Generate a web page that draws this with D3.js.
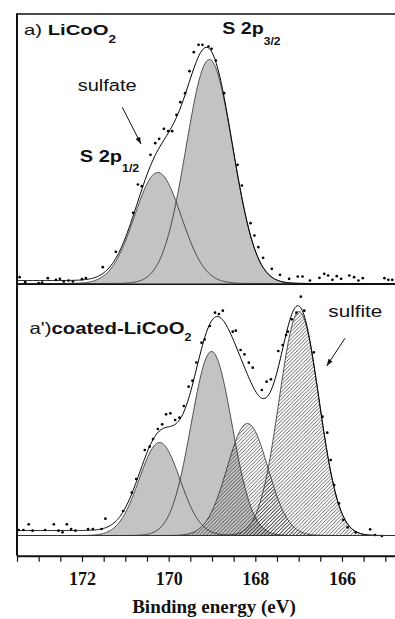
<!DOCTYPE html>
<html>
<head>
<meta charset="utf-8">
<script src="https://cdn.jsdelivr.net/npm/d3@7"></script>
<style>
  html, body { margin: 0; padding: 0; background: #fff; }
  svg { display: block; }
  .tick text { font-family: 'Liberation Serif', 'Times New Roman', serif; font-weight: bold; font-size: 18px; }
</style>
</head>
<body>
<svg id="chart" width="395" height="619"></svg>
<script>
// ---------------- DATA ----------------
const majorTicks = [172, 170, 168, 166];
const xTitle = "Binding energy (eV)";

// panel a) LiCoO2 : measured points (binding energy, intensity a.u.)
const topPointsE = [173.44,173.31,173.0,172.92,172.79,172.60,172.51,172.42,172.31,172.21,172.0,171.91,171.52,171.22,170.82,170.71,170.62,170.42,170.31,170.22,170.11,170.01,169.92,169.82,169.73,169.62,169.52,169.42,169.31,169.22,169.08,169.01,168.91,168.72,168.41,168.31,168.11,168.02,167.93,167.82,167.62,167.43,167.22,167.02,166.91,166.74,166.52,166.41,166.32,166.22,166.12,166.02,165.83,165.72,165.62,165.52,165.02,164.93,164.84];
const topPointsI = [6.3,1.3,0.3,1,5.3,3.7,4.7,2,3,2,4.3,5.3,16.3,31.7,70.7,99,97.3,128.7,140.3,144.7,154.7,152.3,152.3,168.7,181.3,190.3,212.3,231.3,238.7,238.7,237,234.7,223,190.3,118.7,98,60.3,48,36.3,25.7,14.7,8.7,4.7,7,7,3,5.7,9.7,8,3.7,7.3,4.7,8,6.3,3,5.3,5.3,3.7,3.7];
// fitted components (S 2p1/2, S 2p3/2 of sulfate)
const topSpecies = ["sulfate", "sulfate"];
const topCenters = [170.25, 169.06];
const topHeights = [111, 224];
const topSigmas  = [0.54, 0.54];
const topBackgroundStep = 3;

// panel a') coated-LiCoO2
const botPointsE = [173.46,173.35,173.23,173.14,172.85,172.65,172.54,172.45,172.35,172.25,172.15,171.86,171.75,171.55,171.46,171.05,170.85,170.75,170.55,170.44,170.36,170.25,170.15,170.06,169.96,169.85,169.75,169.65,169.54,169.45,169.36,169.24,169.17,169.05,168.93,168.84,168.75,168.52,168.45,168.34,168.25,168.15,168.06,167.85,167.74,167.64,167.47,167.37,167.29,167.25,167.16,167.05,166.95,166.87,166.65,166.45,166.34,166.26,166.18,166.07,165.97,165.87,165.68,165.35,165.24,165.08];
const botPointsI = [5.5,5.5,11.2,4.8,5.5,11.2,4.8,3.2,11.2,6.5,4.8,6.5,6.5,6.5,16.8,24.5,42.8,56.5,85.5,88.8,96.5,106.5,111.2,121.2,122.2,115.5,117.8,129.5,148.8,154.8,173,192.8,196,209.5,222.8,221.5,224.8,203.8,204.8,185.5,181.2,172.8,167.8,145.5,153.8,156.2,184.5,190.5,200.5,203.8,216.2,222.8,238.8,224.8,183.2,118.8,102.8,75.5,50.5,32.2,15.5,8.2,3.2,6.2,0.5,-0.5];
const botSpecies = ["sulfate", "sulfate", "sulfite", "sulfite"];
const botCenters = [170.21, 169.01, 168.18, 166.99];
const botHeights = [93, 184, 112, 224];
const botSigmas  = [0.47, 0.47, 0.47, 0.46];
const botBackgroundStep = 5;

// ---------------- DRAW ----------------
const svg = d3.select("#chart");
const W = 395;
const left = 17, axisY = 555.7;
const pxPerEV = 43.33;

const x = d3.scaleLinear().domain([173.5, 164.5]).range([left, left + 9 * pxPerEV]);
const yTop = d3.scaleLinear().domain([0, 250]).range([283.5, 33.5]);
const yBot = d3.scaleLinear().domain([0, 250]).range([535.5, 285.5]);

const defs = svg.append("defs");
defs.append("clipPath").attr("id", "clip")
  .append("rect").attr("x", left).attr("y", 14).attr("width", W - left).attr("height", axisY - 14);

const pat = defs.append("pattern").attr("id", "hatch")
  .attr("patternUnits", "userSpaceOnUse").attr("width", 3.6).attr("height", 3.6);
pat.append("path").attr("d", "M-0.9,0.9 L0.9,-0.9 M0,3.6 L3.6,0 M2.7,4.5 L4.5,2.7")
  .attr("stroke", "#222").attr("stroke-width", 0.7);

defs.append("marker").attr("id", "arrow")
  .attr("viewBox", "0 0 10 10").attr("refX", 10).attr("refY", 5)
  .attr("markerWidth", 7).attr("markerHeight", 7).attr("orient", "auto")
  .attr("markerUnits", "userSpaceOnUse")
  .append("path").attr("d", "M0,1.5 L10,5 L0,8.5 Z").attr("fill", "#111");

function erf(z) {
  const s = z < 0 ? -1 : 1; z = Math.abs(z);
  const t = 1 / (1 + 0.3275911 * z);
  const y = 1 - (((((1.061405429 * t - 1.453152027) * t) + 1.421413741) * t - 0.284496736) * t + 0.254829592) * t * Math.exp(-z * z);
  return s * y;
}
const gauss = (E, c, h, s) => h * Math.exp(-((E - c) ** 2) / (2 * s * s));

const grid = d3.range(173.6, 164.4, -0.02);

function drawPanel(yS, species, centers, heights, sigmas, bgStep, pe, pi) {
  const g = svg.append("g").attr("clip-path", "url(#clip)");
  const comps = centers.map((c, i) => ({ c, h: heights[i], s: sigmas[i], sp: species[i] }));
  const area = d3.area().x(d => x(d[0])).y0(yS(0)).y1(d => yS(d[1])).curve(d3.curveLinear);
  const line = d3.line().x(d => x(d[0])).y(d => yS(d[1]));
  const ordered = comps.filter(d => d.sp === "sulfate").concat(comps.filter(d => d.sp === "sulfite"));
  ordered.forEach(d => {
    const pts = grid.map(E => [E, gauss(E, d.c, d.h, d.s)]);
    g.append("path").attr("d", area(pts))
      .attr("fill", d.sp === "sulfate" ? "#c3c3c3" : "url(#hatch)")
      .attr("stroke", "none");
  });
  ordered.forEach(d => {
    const pts = grid.map(E => [E, gauss(E, d.c, d.h, d.s)]);
    g.append("path").attr("d", line(pts))
      .attr("fill", "none").attr("stroke", "#2b2b2b").attr("stroke-width", 0.8);
  });
  const totalA = d3.sum(comps, d => d.h * d.s);
  const env = grid.map(E => {
    const bg = bgStep * d3.sum(comps, d => d.h * d.s * 0.5 * (1 + erf((E - d.c) / (d.s * Math.SQRT2)))) / totalA;
    return [E, bg + d3.sum(comps, d => gauss(E, d.c, d.h, d.s))];
  });
  g.append("path").attr("d", line(env))
    .attr("fill", "none").attr("stroke", "#000").attr("stroke-width", 1);
  g.selectAll(null).data(pe.map((E, i) => [E, pi[i]])).enter().append("circle")
    .attr("cx", d => x(d[0])).attr("cy", d => yS(d[1])).attr("r", 1.35).attr("fill", "#000");
}

drawPanel(yTop, topSpecies, topCenters, topHeights, topSigmas, topBackgroundStep, topPointsE, topPointsI);
drawPanel(yBot, botSpecies, botCenters, botHeights, botSigmas, botBackgroundStep, botPointsE, botPointsI);

// frame lines
svg.append("line").attr("x1", left).attr("x2", W).attr("y1", 14).attr("y2", 14)
  .attr("stroke", "#111").attr("stroke-width", 1.5);
svg.append("line").attr("x1", left).attr("x2", W).attr("y1", 284.3).attr("y2", 284.3)
  .attr("stroke", "#111").attr("stroke-width", 1.5);
svg.append("line").attr("x1", left).attr("x2", W).attr("y1", yBot(0)).attr("y2", yBot(0))
  .attr("stroke", "#333").attr("stroke-width", 1);
svg.append("line").attr("x1", left).attr("x2", left).attr("y1", 13.3).attr("y2", axisY)
  .attr("stroke", "#111").attr("stroke-width", 2);

// x axis
const allTicks = d3.range(173.5, 164.9, -0.5);
const axis = d3.axisBottom(x).tickValues(allTicks)
  .tickFormat(d => majorTicks.includes(d) ? String(d) : "")
  .tickSize(6).tickSizeOuter(0);
const ax = svg.append("g").attr("transform", `translate(0,${axisY})`).call(axis)
  .attr("font-family", null).attr("font-size", null);
ax.select(".domain").attr("stroke", "#111").attr("stroke-width", 2);
ax.selectAll(".tick line").attr("stroke", "#111").attr("stroke-width", 1.2);
ax.selectAll(".tick text").attr("y", 29).attr("dy", 0).attr("fill", "#111")
  .style("font-family", "'Liberation Serif', 'Times New Roman', serif")
  .style("font-weight", "bold").style("font-size", "18px");

svg.append("text").attr("x", 214).attr("y", 613).attr("text-anchor", "middle")
  .style("font-family", "'Liberation Serif', 'Times New Roman', serif")
  .style("font-weight", "bold").style("font-size", "19px").attr("fill", "#111").text(xTitle);

// labels (stretched to the reference width)
function label(xp, yp, targetW, size, parts, subDy) {
  const t = svg.append("text").style("font-family", "'Liberation Sans', Arial, sans-serif")
    .style("font-size", size + "px").attr("fill", "#111");
  parts.forEach(p => {
    const ts = t.append("tspan").text(p[0]).style("font-weight", p[1] ? "bold" : "normal");
    if (p[2]) ts.style("font-size", "10px").attr("dy", subDy);
  });
  const w = t.node().getBBox().width;
  t.attr("transform", `translate(${xp},${yp}) scale(${targetW / w},1)`);
}
label(24, 35, 92.7, 15, [["a) ", false], ["LiCoO", true], ["2", true, true]], 7.7);
label(222.3, 34.3, 58.7, 16.3, [["S 2p", true], ["3/2", true, true]], 11);
label(79.7, 162.3, 60, 16.3, [["S 2p", true], ["1/2", true, true]], 9.4);
label(77.7, 90.7, 59, 17, [["sulfate", false]], 0);
label(29.5, 333.5, 162.5, 16.3, [["a')", false], ["coated-LiCoO", true], ["2", true, true]], 7.5);
label(328.3, 316.7, 54, 16.3, [["sulfite", false]], 0);

// arrows
svg.append("line").attr("x1", 122.3).attr("y1", 107.3).attr("x2", 141).attr("y2", 144)
  .attr("stroke", "#111").attr("stroke-width", 1).attr("marker-end", "url(#arrow)");
svg.append("line").attr("x1", 345).attr("y1", 338.3).attr("x2", 326.7).attr("y2", 366)
  .attr("stroke", "#111").attr("stroke-width", 1).attr("marker-end", "url(#arrow)");
</script>
</body>
</html>
